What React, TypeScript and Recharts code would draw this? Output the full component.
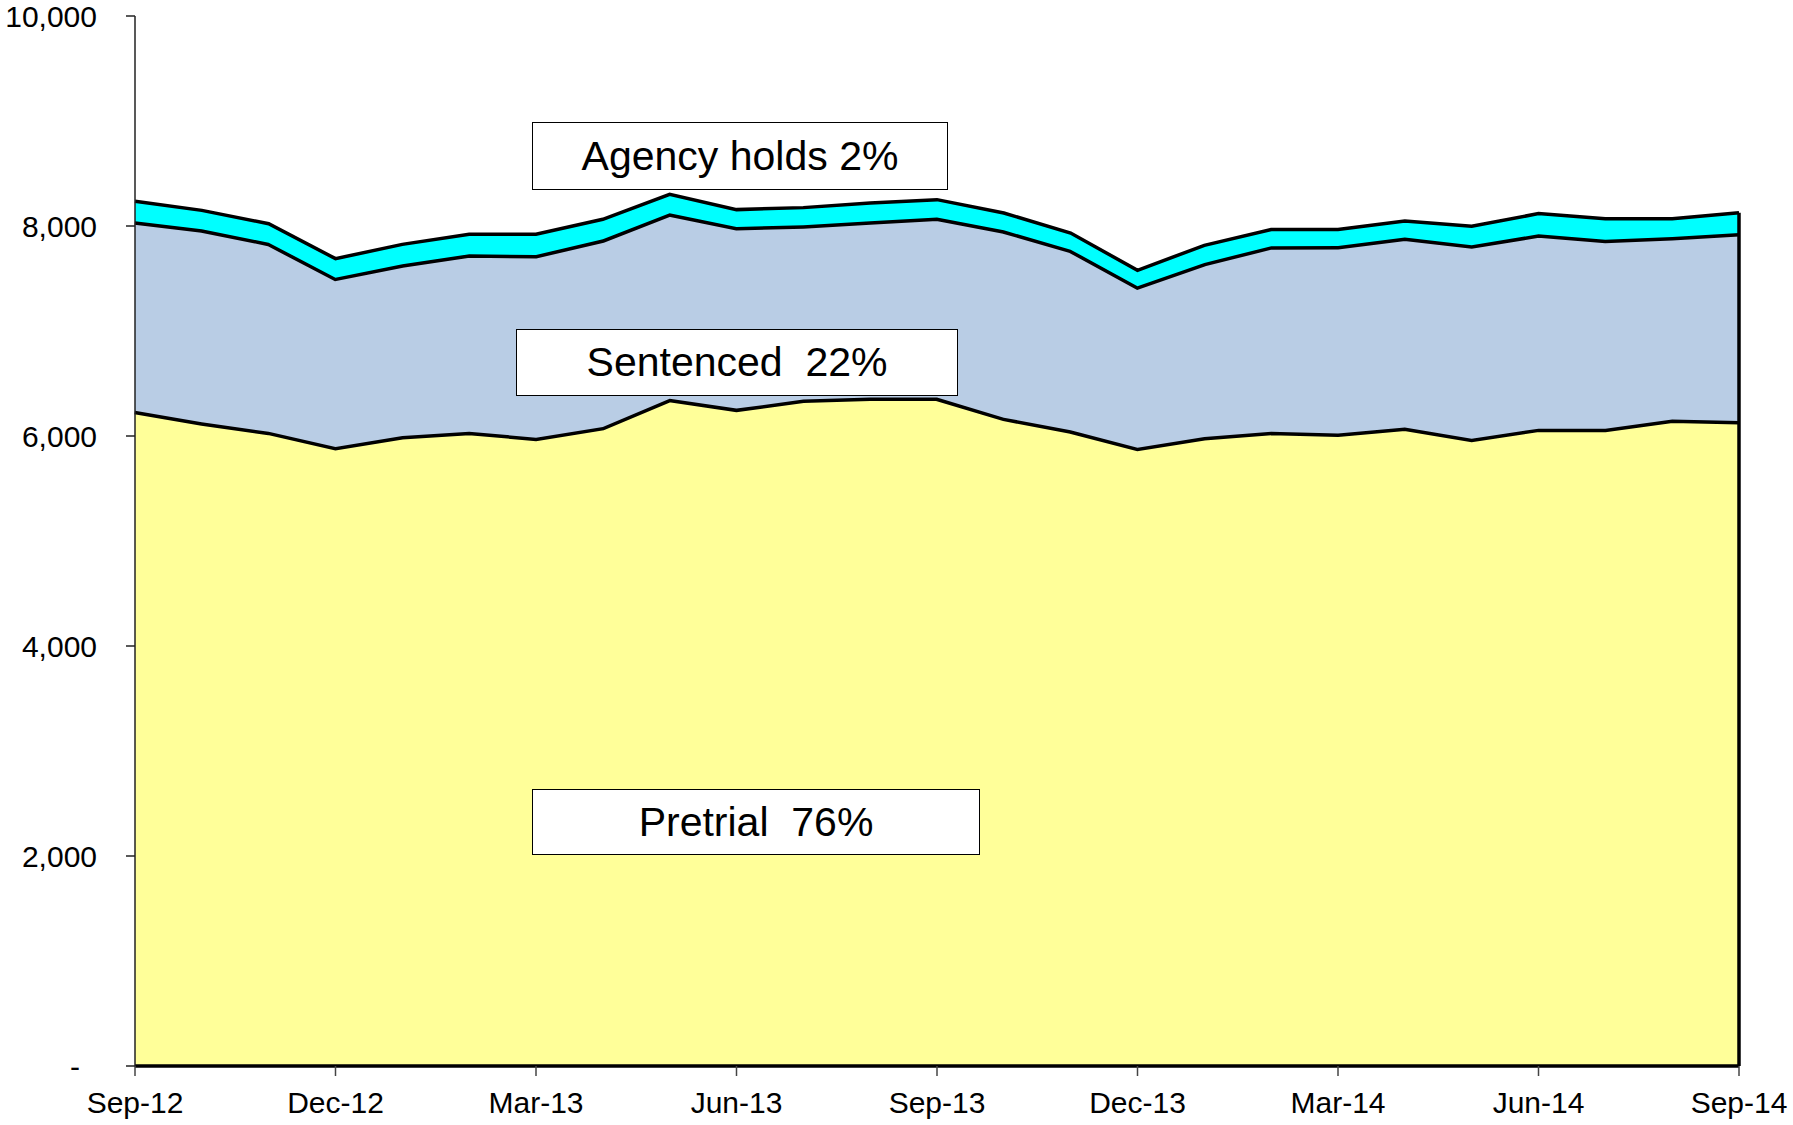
import { Area, AreaChart, ReferenceLine, XAxis, YAxis } from 'recharts'

const months = [
  'Sep-12', 'Oct-12', 'Nov-12', 'Dec-12', 'Jan-13', 'Feb-13', 'Mar-13', 'Apr-13', 'May-13',
  'Jun-13', 'Jul-13', 'Aug-13', 'Sep-13', 'Oct-13', 'Nov-13', 'Dec-13', 'Jan-14', 'Feb-14',
  'Mar-14', 'Apr-14', 'May-14', 'Jun-14', 'Jul-14', 'Aug-14', 'Sep-14',
]
const pretrial = [
  6240, 6130, 6041, 5895, 6000, 6041, 5984, 6086, 6355, 6261, 6347, 6366, 6366,
  6175, 6054, 5889, 5990, 6040, 6023, 6080, 5975, 6070, 6070, 6156, 6143,
]
const sentenced = [
  1805, 1838, 1800, 1613, 1635, 1689, 1740, 1787, 1766, 1729, 1660, 1679, 1714,
  1784, 1721, 1537, 1658, 1768, 1787, 1810, 1841, 1851, 1800, 1739, 1790,
]
const agencyHolds = [
  191, 181, 181, 181, 190, 191, 197, 191, 181, 166, 168, 174, 171,
  165, 158, 152, 168, 158, 156, 158, 181, 197, 200, 175, 194,
]
const yTicks = [0, 2000, 4000, 6000, 8000, 10000]

const data = months.map((month, i) => ({
  month,
  pretrial: pretrial[i],
  sentenced: sentenced[i],
  agency: agencyHolds[i],
}))

const last = data.length - 1
const lastTotal = pretrial[last] + sentenced[last] + agencyHolds[last]

const FONT = '"Liberation Sans", Arial, sans-serif'

function YTick(props: any) {
  const { x, y, payload } = props
  const v = payload.value as number
  return (
    <text x={v === 0 ? x - 17 : x} y={y} dy="0.355em" textAnchor="end" fontSize={30} fill="#000" fontFamily={FONT}>
      {v === 0 ? '-' : v.toLocaleString('en-US')}
    </text>
  )
}

const boxStyle = {
  position: 'absolute' as const,
  background: '#fff',
  border: '1.5px solid #000',
  boxSizing: 'border-box' as const,
  display: 'flex',
  alignItems: 'center',
  justifyContent: 'center',
  fontFamily: FONT,
  fontSize: 41,
  color: '#000',
  whiteSpace: 'pre' as const,
}

export default function App() {
  return (
    <div style={{ position: 'absolute', left: 0, top: 0, width: 1793, height: 1125, background: '#fff' }}>
      <AreaChart width={1793} height={1125} data={data} margin={{ top: 16, right: 54, bottom: 0, left: 0 }}>
        <XAxis
          dataKey="month"
          interval={2}
          height={59}
          tickSize={10}
          tickMargin={16}
          axisLine={false}
          tickLine={{ stroke: '#444', strokeWidth: 1.5 }}
          tick={{ fontSize: 30, fill: '#000', fontFamily: FONT }}
        />
        <YAxis
          width={135}
          domain={[0, 10000]}
          ticks={yTicks}
          tickSize={9}
          tickMargin={29}
          axisLine={{ stroke: '#222', strokeWidth: 1.5 }}
          tickLine={{ stroke: '#222', strokeWidth: 1.5 }}
          tick={<YTick />}
        />
        <Area type="linear" dataKey="pretrial" stackId="1" fill="#FFFF99" fillOpacity={1} stroke="#000" strokeWidth={7} isAnimationActive={false} />
        <Area type="linear" dataKey="sentenced" stackId="1" fill="#B9CDE5" fillOpacity={1} stroke="#000" strokeWidth={7} isAnimationActive={false} />
        <Area type="linear" dataKey="agency" stackId="1" fill="#00FFFF" fillOpacity={1} stroke="#000" strokeWidth={3.5} isAnimationActive={false} />
        <ReferenceLine y={0} stroke="#000" strokeWidth={3.5} />
        <ReferenceLine
          segment={[{ x: months[last], y: 0 }, { x: months[last], y: lastTotal }]}
          stroke="#000"
          strokeWidth={3.5}
        />
      </AreaChart>
      <div style={{ ...boxStyle, left: 532, top: 122, width: 416, height: 68 }}>Agency holds 2%</div>
      <div style={{ ...boxStyle, left: 516, top: 329, width: 442, height: 67 }}>Sentenced  22%</div>
      <div style={{ ...boxStyle, left: 532, top: 789, width: 448, height: 66 }}>Pretrial  76%</div>
    </div>
  )
}
